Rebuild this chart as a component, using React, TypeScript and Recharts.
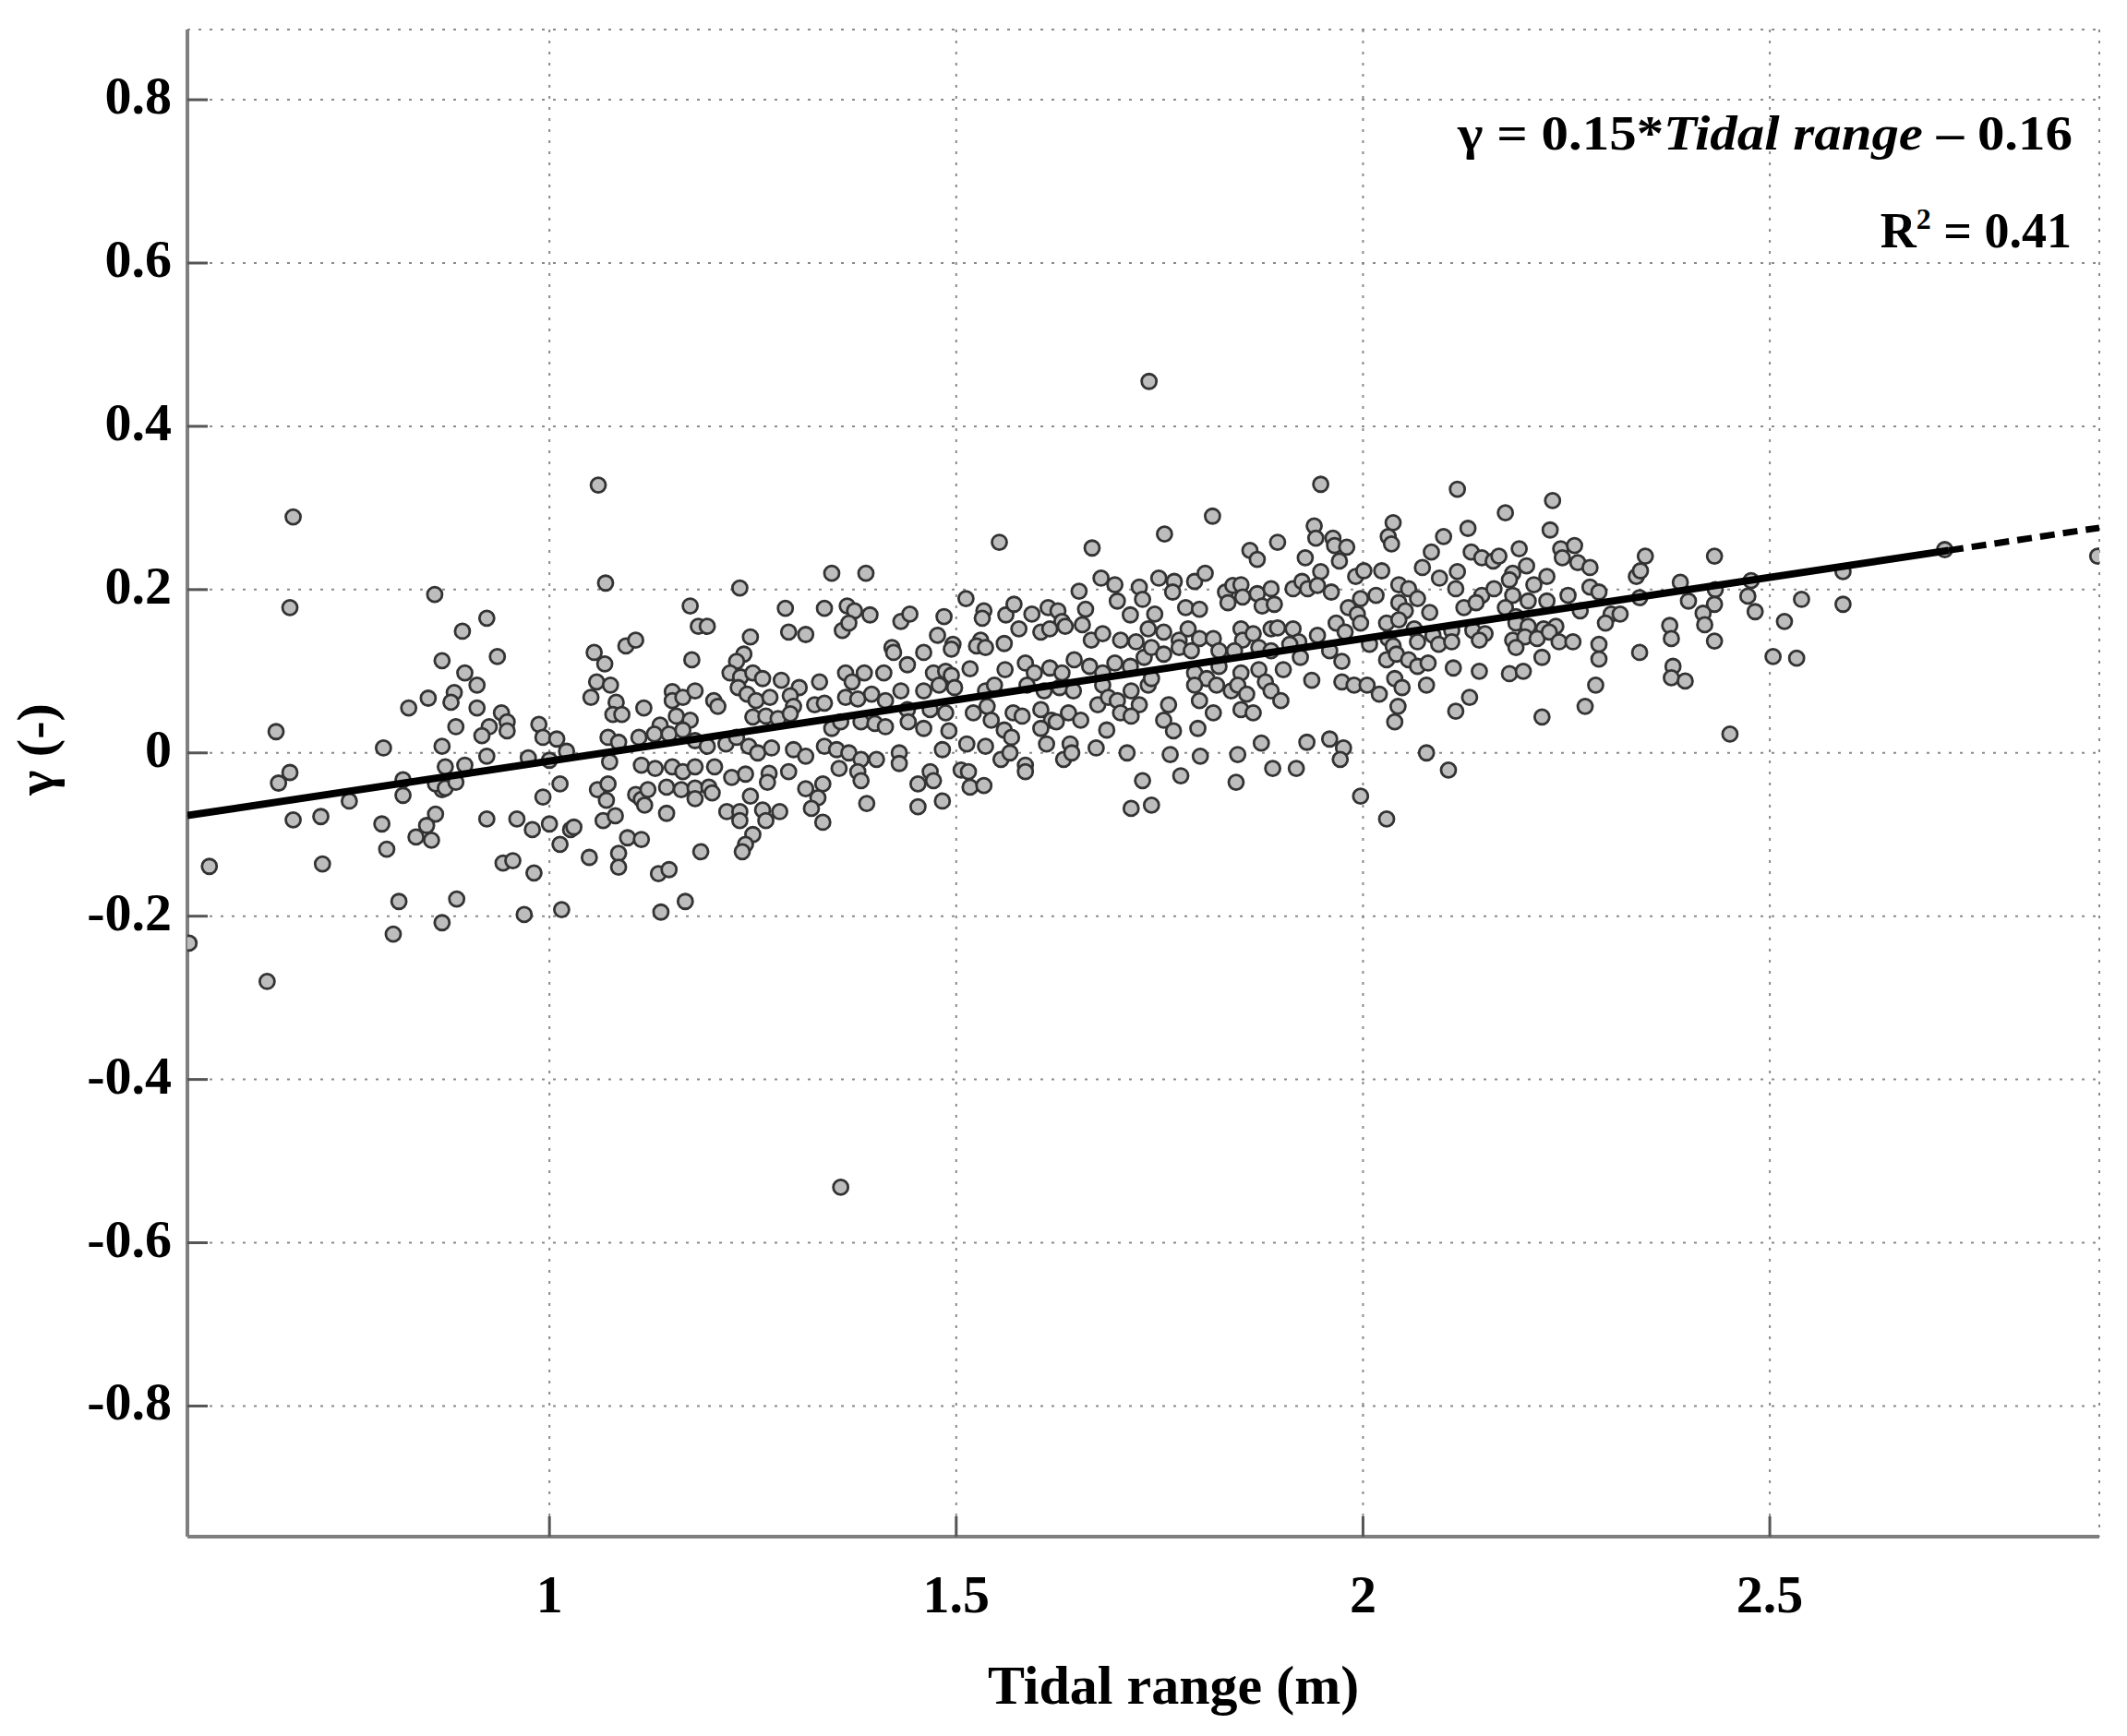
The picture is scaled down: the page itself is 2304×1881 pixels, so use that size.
import React from "react";
import {
  ScatterChart,
  Scatter,
  XAxis,
  YAxis,
  CartesianGrid,
} from "recharts";

// tidal range (m) vs gamma (-), grouped by x band
const band1 = [
  [0.685, 0.289], [0.859, 0.194], [0.681, 0.178], [0.827, 0.055], [0.851, 0.067], [0.664, 0.026],
  [0.796, 0.006], [0.681, -0.024], [0.667, -0.037], [0.82, -0.033], [0.82, -0.052], [0.754, -0.059],
  [0.685, -0.082], [0.719, -0.078], [0.794, -0.087], [0.86, -0.075], [0.849, -0.089], [0.836, -0.103],
  [0.855, -0.107], [0.8, -0.118], [0.582, -0.139], [0.721, -0.136], [0.815, -0.182], [0.808, -0.222],
  [0.557, -0.233], [0.653, -0.28], [0.868, -0.045], [0.868, -0.208],
];

const band2 = [
  [1.06, 0.328], [1.069, 0.208], [0.923, 0.165], [0.893, 0.149], [0.868, 0.113], [0.936, 0.118],
  [0.896, 0.098], [0.911, 0.083], [0.883, 0.074], [0.879, 0.062], [0.911, 0.055], [0.885, 0.032],
  [0.941, 0.049], [0.948, 0.038], [0.948, 0.027], [0.926, 0.032], [0.917, 0.021], [0.987, 0.035],
  [0.992, 0.019], [1.009, 0.017], [1.021, 0.002], [0.868, 0.008], [0.923, -0.004], [0.872, -0.017],
  [0.896, -0.015], [0.86, -0.038], [0.872, -0.043], [0.885, -0.036], [0.974, -0.006], [1.0, -0.009],
  [1.013, -0.038], [0.992, -0.054], [0.923, -0.081], [0.96, -0.081], [0.979, -0.094], [1.0, -0.087],
  [1.026, -0.094], [1.03, -0.091], [1.013, -0.112], [0.943, -0.135], [0.955, -0.132], [0.981, -0.147],
  [1.049, -0.128], [0.886, -0.179], [0.969, -0.198], [1.015, -0.192], [1.137, -0.195],
  [1.055, 0.123], [1.068, 0.109], [1.094, 0.131], [1.106, 0.138], [1.058, 0.087], [1.075, 0.083],
  [1.051, 0.068], [1.082, 0.062], [1.078, 0.047], [1.089, 0.047], [1.116, 0.055], [1.151, 0.075],
  [1.151, 0.064], [1.136, 0.034], [1.072, 0.019], [1.085, 0.013], [1.11, 0.019], [1.129, 0.023],
  [1.074, -0.011], [1.113, -0.015], [1.13, -0.019], [1.151, -0.017], [1.059, -0.045], [1.072, -0.038],
  [1.07, -0.058], [1.106, -0.051], [1.113, -0.057], [1.117, -0.064], [1.121, -0.045], [1.144, -0.042],
  [1.144, -0.074], [1.066, -0.083], [1.081, -0.077], [1.096, -0.104], [1.113, -0.106], [1.085, -0.123],
  [1.085, -0.14], [1.134, -0.148], [1.147, -0.143],
];

const band3 = [
  [1.347, 0.22], [1.389, 0.22], [1.234, 0.202], [1.173, 0.18], [1.29, 0.177], [1.338, 0.177],
  [1.366, 0.18], [1.375, 0.174], [1.394, 0.169], [1.432, 0.161], [1.443, 0.17], [1.183, 0.155],
  [1.194, 0.155], [1.294, 0.148], [1.315, 0.145], [1.36, 0.15], [1.368, 0.159], [1.247, 0.142],
  [1.175, 0.114], [1.421, 0.129], [1.423, 0.123], [1.239, 0.121], [1.23, 0.112], [1.44, 0.108],
  [1.222, 0.098], [1.235, 0.093], [1.25, 0.098], [1.262, 0.091], [1.285, 0.089], [1.307, 0.08],
  [1.332, 0.087], [1.364, 0.098], [1.372, 0.087], [1.387, 0.098], [1.411, 0.098], [1.164, 0.068],
  [1.179, 0.076], [1.202, 0.064], [1.207, 0.057], [1.232, 0.08], [1.243, 0.072], [1.254, 0.064],
  [1.271, 0.068], [1.296, 0.07], [1.3, 0.057], [1.326, 0.059], [1.338, 0.061], [1.364, 0.068],
  [1.379, 0.066], [1.396, 0.072], [1.413, 0.064], [1.432, 0.076], [1.44, 0.053], [1.156, 0.045],
  [1.173, 0.04], [1.25, 0.044], [1.266, 0.045], [1.281, 0.042], [1.296, 0.048], [1.347, 0.03],
  [1.358, 0.038], [1.383, 0.038], [1.4, 0.036], [1.413, 0.032], [1.147, 0.023], [1.164, 0.028],
  [1.179, 0.015], [1.194, 0.008], [1.217, 0.011], [1.23, 0.019], [1.245, 0.008], [1.256, 0.0],
  [1.273, 0.006], [1.3, 0.004], [1.315, -0.004], [1.338, 0.008], [1.353, 0.004], [1.368, 0.0],
  [1.383, -0.008], [1.402, -0.008], [1.43, 0.0], [1.43, -0.013], [1.164, -0.023], [1.179, -0.017],
  [1.203, -0.017], [1.224, -0.03], [1.241, -0.026], [1.27, -0.025], [1.294, -0.023], [1.356, -0.019],
  [1.379, -0.023], [1.383, -0.034], [1.162, -0.045], [1.179, -0.043], [1.196, -0.042], [1.2, -0.049],
  [1.268, -0.036], [1.315, -0.044], [1.336, -0.038], [1.247, -0.053], [1.33, -0.055], [1.179, -0.056],
  [1.218, -0.072], [1.234, -0.072], [1.234, -0.083], [1.262, -0.07], [1.266, -0.083], [1.283, -0.072],
  [1.322, -0.068], [1.39, -0.062], [1.336, -0.085], [1.25, -0.1], [1.241, -0.112], [1.237, -0.121],
  [1.186, -0.121], [1.167, -0.182],
];

const band4 = [
  [1.553, 0.258], [1.667, 0.251], [1.512, 0.189], [1.651, 0.198], [1.678, 0.214], [1.695, 0.206],
  [1.725, 0.203], [1.698, 0.186], [1.729, 0.188], [1.714, 0.169], [1.485, 0.167], [1.534, 0.174],
  [1.532, 0.165], [1.561, 0.169], [1.571, 0.182], [1.593, 0.17], [1.613, 0.178], [1.625, 0.174],
  [1.63, 0.161], [1.659, 0.176], [1.655, 0.157], [1.477, 0.144], [1.496, 0.133], [1.494, 0.127],
  [1.53, 0.138], [1.525, 0.131], [1.536, 0.129], [1.559, 0.134], [1.577, 0.152], [1.604, 0.148],
  [1.615, 0.152], [1.634, 0.155], [1.666, 0.138], [1.68, 0.146], [1.702, 0.138], [1.721, 0.136],
  [1.736, 0.152], [1.46, 0.123], [1.517, 0.103], [1.472, 0.098], [1.487, 0.1], [1.494, 0.095],
  [1.56, 0.102], [1.585, 0.11], [1.596, 0.098], [1.615, 0.104], [1.63, 0.098], [1.645, 0.114],
  [1.664, 0.106], [1.68, 0.098], [1.695, 0.11], [1.714, 0.106], [1.731, 0.117], [1.46, 0.076],
  [1.479, 0.083], [1.498, 0.08], [1.536, 0.076], [1.547, 0.083], [1.587, 0.083], [1.608, 0.076],
  [1.627, 0.08], [1.644, 0.076], [1.68, 0.083], [1.715, 0.076], [1.736, 0.083], [1.468, 0.053],
  [1.487, 0.049], [1.521, 0.049], [1.538, 0.057], [1.543, 0.04], [1.57, 0.049], [1.581, 0.045],
  [1.604, 0.053], [1.617, 0.04], [1.638, 0.049], [1.653, 0.04], [1.674, 0.059], [1.687, 0.068],
  [1.698, 0.064], [1.702, 0.049], [1.725, 0.059], [1.715, 0.045], [1.441, 0.038], [1.46, 0.03],
  [1.491, 0.027], [1.513, 0.011], [1.536, 0.008], [1.559, 0.028], [1.568, 0.019], [1.604, 0.03],
  [1.611, 0.011], [1.623, 0.038], [1.64, 0.011], [1.685, 0.028], [1.483, 0.004], [1.672, 0.006],
  [1.71, 0.0], [1.555, -0.008], [1.566, 0.0], [1.585, -0.015], [1.585, -0.023], [1.632, -0.008],
  [1.642, 0.0], [1.468, -0.023], [1.472, -0.034], [1.453, -0.038], [1.506, -0.021], [1.515, -0.023],
  [1.517, -0.042], [1.534, -0.04], [1.729, -0.034], [1.453, -0.066], [1.483, -0.059], [1.715, -0.068],
  [1.74, -0.064],
];

const band5 = [
  [1.948, 0.329], [1.815, 0.29], [1.756, 0.268], [1.895, 0.258], [1.94, 0.278], [1.942, 0.263],
  [1.963, 0.263], [1.965, 0.254], [1.98, 0.252], [1.971, 0.235], [1.861, 0.248], [1.87, 0.237],
  [1.929, 0.239], [1.948, 0.222], [2.031, 0.265], [2.035, 0.256], [1.749, 0.214], [1.768, 0.21],
  [1.766, 0.197], [1.793, 0.21], [1.806, 0.22], [1.831, 0.197], [1.84, 0.205], [1.85, 0.206],
  [1.852, 0.191], [1.834, 0.184], [1.87, 0.195], [1.887, 0.201], [1.876, 0.18], [1.891, 0.182],
  [1.914, 0.201], [1.925, 0.21], [1.932, 0.201], [1.944, 0.205], [1.961, 0.197], [1.991, 0.216],
  [2.001, 0.223], [2.023, 0.223], [1.997, 0.189], [2.016, 0.193], [1.744, 0.17], [1.782, 0.178],
  [1.799, 0.176], [1.982, 0.178], [1.993, 0.17], [1.997, 0.159], [1.755, 0.148], [1.774, 0.138],
  [1.785, 0.152], [1.799, 0.14], [1.816, 0.14], [1.85, 0.152], [1.852, 0.138], [1.865, 0.146],
  [1.887, 0.152], [1.895, 0.153], [1.914, 0.152], [1.921, 0.136], [1.944, 0.144], [1.967, 0.159],
  [1.978, 0.148], [1.74, 0.129], [1.755, 0.121], [1.774, 0.129], [1.789, 0.125], [1.823, 0.125],
  [1.842, 0.125], [1.872, 0.129], [1.887, 0.125], [1.91, 0.133], [1.923, 0.117], [1.959, 0.125],
  [1.974, 0.112], [2.008, 0.133], [2.031, 0.14], [1.74, 0.091], [1.793, 0.098], [1.808, 0.091],
  [1.823, 0.106], [1.85, 0.098], [1.872, 0.102], [1.902, 0.102], [1.793, 0.083], [1.82, 0.083],
  [1.838, 0.076], [1.846, 0.083], [1.857, 0.072], [1.88, 0.087], [1.887, 0.076], [1.899, 0.064],
  [1.937, 0.089], [1.974, 0.087], [1.989, 0.083], [2.005, 0.083], [2.02, 0.072], [2.039, 0.038],
  [1.761, 0.059], [1.755, 0.04], [1.767, 0.027], [1.799, 0.064], [1.816, 0.049], [1.85, 0.053],
  [1.865, 0.049], [1.797, 0.03], [1.763, -0.002], [1.8, -0.004], [1.846, -0.002], [1.875, 0.012],
  [1.931, 0.013], [1.959, 0.017], [1.976, 0.006], [1.972, -0.008], [1.776, -0.028], [1.844, -0.036],
  [1.889, -0.019], [1.918, -0.019], [1.997, -0.053], [2.029, -0.081],
];

const band6 = [
  [2.116, 0.323], [2.233, 0.309], [2.175, 0.294], [2.23, 0.273], [2.129, 0.275], [2.037, 0.282],
  [2.099, 0.265], [2.084, 0.246], [2.073, 0.227], [2.133, 0.246], [2.146, 0.239], [2.16, 0.235],
  [2.167, 0.241], [2.192, 0.25], [2.243, 0.25], [2.26, 0.254], [2.245, 0.239], [2.264, 0.233],
  [2.279, 0.227], [2.094, 0.214], [2.116, 0.222], [2.184, 0.22], [2.201, 0.229], [2.18, 0.212],
  [2.21, 0.206], [2.226, 0.216], [2.044, 0.206], [2.056, 0.201], [2.067, 0.189], [2.114, 0.201],
  [2.146, 0.193], [2.161, 0.201], [2.184, 0.193], [2.203, 0.186], [2.226, 0.186], [2.252, 0.193],
  [2.279, 0.203], [2.29, 0.197], [2.044, 0.184], [2.052, 0.174], [2.082, 0.172], [2.124, 0.178],
  [2.139, 0.184], [2.175, 0.178], [2.188, 0.167], [2.267, 0.174], [2.305, 0.17], [2.316, 0.17],
  [2.298, 0.159], [2.029, 0.159], [2.044, 0.163], [2.063, 0.152], [2.086, 0.144], [2.109, 0.15],
  [2.135, 0.15], [2.15, 0.146], [2.188, 0.159], [2.203, 0.155], [2.222, 0.152], [2.237, 0.155],
  [2.037, 0.131], [2.029, 0.114], [2.067, 0.136], [2.093, 0.133], [2.109, 0.136], [2.143, 0.138],
  [2.184, 0.138], [2.199, 0.142], [2.188, 0.129], [2.214, 0.14], [2.229, 0.148], [2.241, 0.136],
  [2.258, 0.136], [2.29, 0.133], [2.29, 0.115], [2.041, 0.121], [2.056, 0.114], [2.067, 0.106],
  [2.08, 0.11], [2.22, 0.117], [2.039, 0.091], [2.048, 0.08], [2.078, 0.083], [2.111, 0.104],
  [2.143, 0.1], [2.18, 0.097], [2.197, 0.1], [2.043, 0.057], [2.131, 0.068], [2.114, 0.051],
  [2.286, 0.083], [2.273, 0.057], [2.22, 0.044], [2.078, 0.0], [2.105, -0.021],
];

const band7 = [
  [2.347, 0.241], [2.336, 0.216], [2.341, 0.223], [2.432, 0.241], [2.39, 0.209], [2.34, 0.19],
  [2.4, 0.186], [2.433, 0.2], [2.432, 0.182], [2.418, 0.171], [2.42, 0.157], [2.377, 0.156],
  [2.379, 0.14], [2.432, 0.137], [2.34, 0.123], [2.473, 0.192], [2.482, 0.173], [2.477, 0.211],
  [2.381, 0.106], [2.379, 0.092], [2.396, 0.088], [2.451, 0.023], [2.504, 0.118], [2.518, 0.161],
  [2.533, 0.116], [2.539, 0.188], [2.59, 0.222], [2.59, 0.182], [2.715, 0.249], [2.903, 0.241],
];

const outliers = [[1.737, 0.455], [1.358, -0.532]];

// linear fit shown in the figure
const FIT_SLOPE = 0.15;
const FIT_INTERCEPT = -0.16;
const FIT_SOLID_X = [0.555, 2.72];
const FIT_DASHED_X = [2.72, 2.905];

const X_DOMAIN = [0.555, 2.905];
const Y_DOMAIN = [-0.96, 0.886];
const X_TICKS = [1, 1.5, 2, 2.5];
const Y_TICKS = [-0.8, -0.6, -0.4, -0.2, 0, 0.2, 0.4, 0.6, 0.8];

const points = [...band1, ...band2, ...band3, ...band4, ...band5, ...band6, ...band7, ...outliers].map(
  ([x, y]) => ({ x, y })
);
const fitLine = (xs: number[]) => xs.map((x) => ({ x, y: FIT_SLOPE * x + FIT_INTERCEPT }));

const FONT = "'Liberation Serif', 'Times New Roman', serif";
const AXIS_GRAY = "#7f7f7f";

const YTick = (props: any) => {
  const { x, y, payload } = props;
  return (
    <g>
      <line x1={x} y1={y} x2={x + 22} y2={y} stroke="#555" strokeWidth={3} />
      <text x={x - 17} y={y + 15} textAnchor="end" fontFamily={FONT} fontWeight="bold" fontSize={58} fill="#000">
        {String(payload.value)}
      </text>
    </g>
  );
};

const XTick = (props: any) => {
  const { x, y, payload } = props;
  return (
    <g>
      <line x1={x} y1={y} x2={x} y2={y - 22} stroke="#555" strokeWidth={3} />
      <text x={x} y={y + 82} textAnchor="middle" fontFamily={FONT} fontWeight="bold" fontSize={58} fill="#000">
        {String(payload.value)}
      </text>
    </g>
  );
};

const Marker = (props: any) => (
  <circle cx={props.cx} cy={props.cy} r={8} fill="#bdbdbd" stroke="#333" strokeWidth={2.8} />
);

export default function App() {
  return (
    <div style={{ position: "absolute", left: 0, top: 0, width: 2304, height: 1881, background: "#fff" }}>
      <ScatterChart width={2304} height={1881} margin={{ top: 32, right: 30, left: 0, bottom: 0 }}>
        <CartesianGrid stroke="#8a8a8a" strokeWidth={2} strokeDasharray="3 9" />
        <XAxis
          type="number"
          dataKey="x"
          domain={X_DOMAIN}
          ticks={X_TICKS}
          allowDataOverflow
          height={216}
          tickSize={0}
          tickMargin={0}
          tickLine={false}
          tick={<XTick />}
          axisLine={{ stroke: AXIS_GRAY, strokeWidth: 4 }}
        />
        <YAxis
          type="number"
          dataKey="y"
          domain={Y_DOMAIN}
          ticks={Y_TICKS}
          allowDataOverflow
          width={203}
          tickSize={0}
          tickMargin={0}
          tickLine={false}
          tick={<YTick />}
          axisLine={{ stroke: AXIS_GRAY, strokeWidth: 4 }}
        />
        <Scatter data={points} shape={<Marker />} isAnimationActive={false} />
        <Scatter
          data={fitLine(FIT_SOLID_X)}
          line={{ stroke: "#000", strokeWidth: 8 }}
          shape={() => <g />}
          isAnimationActive={false}
        />
        <Scatter
          data={fitLine(FIT_DASHED_X)}
          line={{ stroke: "#000", strokeWidth: 7, strokeDasharray: "16 9" }}
          shape={() => <g />}
          isAnimationActive={false}
        />
      </ScatterChart>
      <svg
        width={2304}
        height={1881}
        style={{ position: "absolute", left: 0, top: 0, pointerEvents: "none" }}
        fontFamily={FONT}
        fontWeight="bold"
        fill="#000"
      >
        <text x={2245} y={162} textAnchor="end" fontSize={52} textLength={666} lengthAdjust="spacingAndGlyphs">
          <tspan>γ = 0.15*</tspan>
          <tspan fontStyle="italic">Tidal range</tspan>
          <tspan> – 0.16</tspan>
        </text>
        <text x={2244} y={268} textAnchor="end" fontSize={54}>
          <tspan>R</tspan>
          <tspan fontSize={32} dy={-20}>2</tspan>
          <tspan dy={20}> = 0.41</tspan>
        </text>
        <text x={1271} y={1846} textAnchor="middle" fontSize={60}>
          Tidal range (m)
        </text>
        <text x={0} y={0} transform="translate(58 812) rotate(-90)" textAnchor="middle" fontSize={58}>
          γ (-)
        </text>
      </svg>
    </div>
  );
}
